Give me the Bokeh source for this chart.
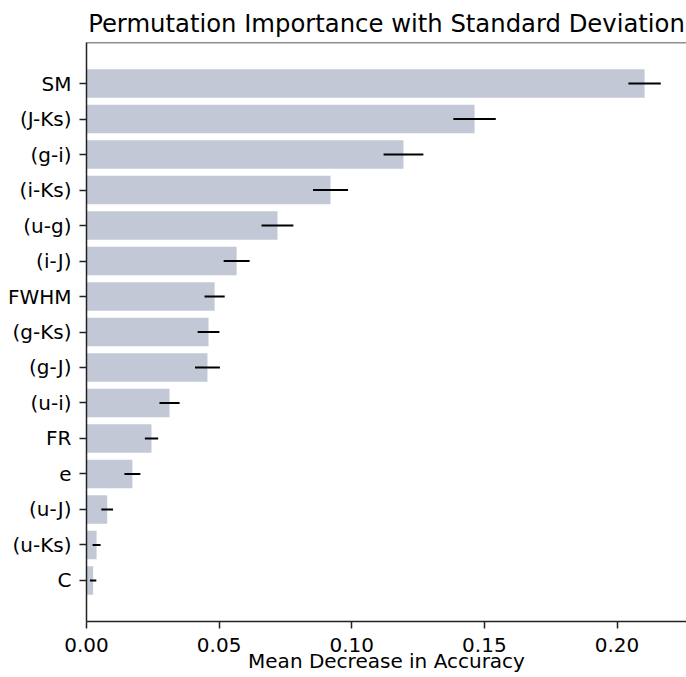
from bokeh.plotting import figure
from bokeh.models import FixedTicker, Span, NumeralTickFormatter
from bokeh.embed import file_html
from bokeh.resources import INLINE

features = ["SM", "(J-Ks)", "(g-i)", "(i-Ks)", "(u-g)", "(i-J)", "FWHM", "(g-Ks)",
            "(g-J)", "(u-i)", "FR", "e", "(u-J)", "(u-Ks)", "C"]
importance = [0.2104, 0.1463, 0.1195, 0.0920, 0.0720, 0.0566, 0.0483, 0.0460,
              0.0456, 0.0313, 0.0245, 0.0173, 0.0078, 0.0038, 0.0025]
std = [0.0061, 0.0080, 0.0075, 0.0066, 0.0060, 0.0049, 0.0038, 0.0041,
       0.0047, 0.0038, 0.0025, 0.0030, 0.0022, 0.0015, 0.0012]
xticks = [0.0, 0.05, 0.10, 0.15, 0.20]

n = len(features)
ypos = [n - 1 - i for i in range(n)]
lo = [v - s for v, s in zip(importance, std)]
hi = [v + s for v, s in zip(importance, std)]

FONT = "DejaVu Sans"
y0, y1 = -1.155, n - 1 + 1.155
x1 = 0.2262

p = figure(width=686, height=677, output_backend="svg", toolbar_location=None,
           x_range=(0, x1), y_range=(y0, y1),
           min_border_left=86, min_border_right=0, min_border_top=42, min_border_bottom=56)

p.hbar(y=ypos, left=0, right=importance, height=0.8, color="#c3c8d6", line_color=None)
p.segment(x0=lo, x1=hi, y0=ypos, y1=ypos, line_color="black", line_width=2.2)

p.title.text = "Permutation Importance with Standard Deviation"
p.title.text_font = FONT
p.title.text_font_size = "24.3px"
p.title.text_font_style = "normal"
p.title.align = "center"
p.title.text_color = "black"

p.grid.visible = False
p.outline_line_color = None
p.add_layout(Span(location=y1, dimension="width", line_color="#222222", line_width=1.5))

p.yaxis.ticker = FixedTicker(ticks=ypos)
p.yaxis.major_label_overrides = {y: f for y, f in zip(ypos, features)}
p.xaxis.ticker = FixedTicker(ticks=xticks)
p.xaxis.formatter = NumeralTickFormatter(format="0.00")

for ax in (p.xaxis, p.yaxis):
    ax.major_label_text_font = FONT
    ax.major_label_text_font_size = "20px"
    ax.major_label_text_color = "black"
    ax.axis_line_color = "#222222"
    ax.axis_line_width = 1.5
    ax.major_tick_line_color = "#222222"
    ax.major_tick_line_width = 1.5
    ax.major_tick_out = 7
    ax.major_tick_in = 0
    ax.minor_tick_line_color = None

p.yaxis.major_label_standoff = 8
p.xaxis.major_label_standoff = 9
p.xaxis.axis_label = "Mean Decrease in Accuracy"
p.xaxis.axis_label_text_font = FONT
p.xaxis.axis_label_text_font_size = "20px"
p.xaxis.axis_label_text_font_style = "normal"
p.xaxis.axis_label_text_color = "black"
p.xaxis.axis_label_standoff = -6

open("out.html", "w").write(file_html(p, INLINE))
